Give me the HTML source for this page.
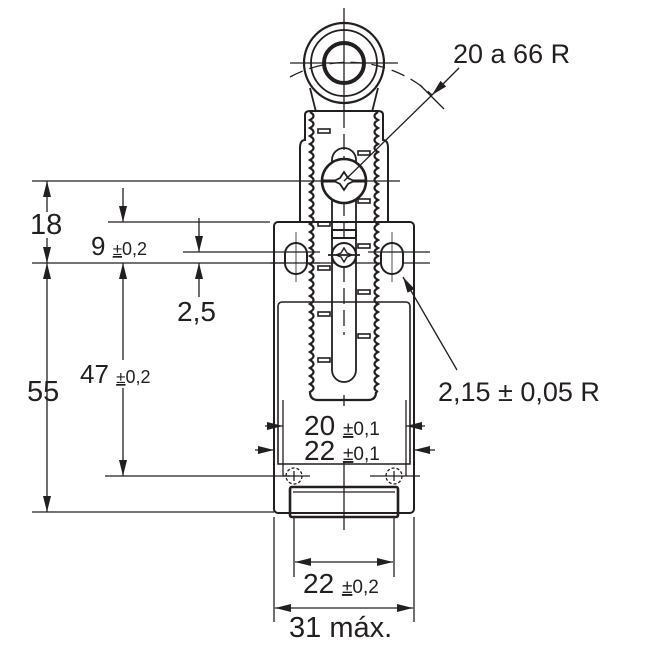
<!DOCTYPE html>
<html><head><meta charset="utf-8"><style>
html,body{margin:0;padding:0;background:#fff;}
svg{display:block;}
text{font-family:"Liberation Sans",sans-serif;fill:#231f20;}
</style></head><body>
<svg width="650" height="650" viewBox="0 0 650 650" xmlns="http://www.w3.org/2000/svg">
<defs>
<marker id="a" viewBox="0 0 16 8" refX="16" refY="4" markerWidth="16" markerHeight="8" markerUnits="userSpaceOnUse" orient="auto-start-reverse"><path d="M0,0 L16,4 L0,8 z" fill="#231f20"/></marker>
</defs>
<g stroke="#231f20" fill="none" stroke-width="1.3">
<line x1="32" y1="181" x2="400" y2="181"/>
<line x1="108" y1="222" x2="270" y2="222"/>
<line x1="183" y1="252" x2="270" y2="252"/>
<line x1="32" y1="263" x2="430" y2="263"/>
<line x1="32" y1="512" x2="274" y2="512"/>
<line x1="105" y1="476" x2="290" y2="476"/>
<line x1="47" y1="212" x2="47" y2="181" marker-end="url(#a)"/>
<line x1="47" y1="238" x2="47" y2="263" marker-end="url(#a)"/>
<line x1="47" y1="263" x2="47" y2="512" marker-start="url(#a)" marker-end="url(#a)"/>
<line x1="123" y1="188" x2="123" y2="222" marker-end="url(#a)"/>
<line x1="123" y1="360" x2="123" y2="263" marker-end="url(#a)"/>
<line x1="123" y1="388" x2="123" y2="476" marker-end="url(#a)"/>
<line x1="199" y1="218" x2="199" y2="252" marker-end="url(#a)"/>
<line x1="199" y1="297" x2="199" y2="263" marker-end="url(#a)"/>
<line x1="294" y1="517" x2="294" y2="577"/>
<line x1="394" y1="517" x2="394" y2="577"/>
<line x1="274" y1="517" x2="274" y2="622"/>
<line x1="414" y1="517" x2="414" y2="622"/>
<line x1="295" y1="562" x2="393" y2="562" marker-start="url(#a)" marker-end="url(#a)"/>
<line x1="275" y1="608" x2="413" y2="608" marker-start="url(#a)" marker-end="url(#a)"/>
<line x1="283" y1="400" x2="283" y2="476"/>
<line x1="406" y1="400" x2="406" y2="476"/>
<line x1="265" y1="426" x2="283" y2="426" marker-end="url(#a)"/>
<line x1="425" y1="426" x2="406" y2="426" marker-end="url(#a)"/>
<line x1="255" y1="450" x2="274" y2="450" marker-end="url(#a)"/>
<line x1="435" y1="450" x2="414" y2="450" marker-end="url(#a)"/>
<rect x="274" y="222" width="140" height="291" rx="4" stroke-width="2"/>
<path d="M278 464 V306 a4 4 0 0 1 4 -4 H406 a4 4 0 0 1 4 4 V464 Z" stroke-width="1.6"/>
<rect x="290" y="487" width="108" height="30" rx="2" stroke-width="2.6"/>
<line x1="293" y1="492" x2="395" y2="492"/>
<path d="M300 222 V148 q0 -8 5 -8 V115 q0 -4 5 -4 H378 q5 0 5 4 V140 q5 0 5 8 V222" stroke-width="2"/>
<path d="M310 112 q7 4 0 8 q7 4 0 8 q7 4 0 8 q7 4 0 8 q7 4 0 8 q7 4 0 8 q7 4 0 8 q7 4 0 8 q7 4 0 8 q7 4 0 8 q7 4 0 8 q7 4 0 8 q7 4 0 8 q7 4 0 8 q7 4 0 8 q7 4 0 8 q7 4 0 8 q7 4 0 8 q7 4 0 8 q7 4 0 8 q7 4 0 8 q7 4 0 8 q7 4 0 8 q7 4 0 8 q7 4 0 8 q7 4 0 8 q7 4 0 8 q7 4 0 8 q7 4 0 8 q7 4 0 8 q7 4 0 8 q7 4 0 8 q7 4 0 8 q7 4 0 8 q7 4 0 8 q0 8 8 8 H368 q8 0 8 -8" stroke-width="2.2"/>
<path d="M378 112 q-7 4 0 8 q-7 4 0 8 q-7 4 0 8 q-7 4 0 8 q-7 4 0 8 q-7 4 0 8 q-7 4 0 8 q-7 4 0 8 q-7 4 0 8 q-7 4 0 8 q-7 4 0 8 q-7 4 0 8 q-7 4 0 8 q-7 4 0 8 q-7 4 0 8 q-7 4 0 8 q-7 4 0 8 q-7 4 0 8 q-7 4 0 8 q-7 4 0 8 q-7 4 0 8 q-7 4 0 8 q-7 4 0 8 q-7 4 0 8 q-7 4 0 8 q-7 4 0 8 q-7 4 0 8 q-7 4 0 8 q-7 4 0 8 q-7 4 0 8 q-7 4 0 8 q-7 4 0 8 q-7 4 0 8 q-7 4 0 8 q-7 4 0 8" stroke-width="2.2"/>
<path d="M316 112 L310 88 M372 112 L378 88" stroke-width="1.8"/>
<path d="M332 370 V160 a12 12 0 0 1 24 0 V370 a12 12 0 0 1 -24 0 Z" stroke-width="1.8"/>
<g stroke-width="1.6">
<rect x="318" y="129" width="12" height="4"/><rect x="358" y="151" width="12" height="4"/>
<rect x="318" y="222" width="12" height="4"/><rect x="358" y="244" width="12" height="4"/>
<rect x="318" y="266" width="12" height="4"/><rect x="358" y="290" width="12" height="4"/>
<rect x="318" y="312" width="12" height="4"/><rect x="358" y="334" width="12" height="4"/>
<rect x="318" y="358" width="12" height="4"/><rect x="358" y="199" width="12" height="4"/>
</g>
<circle cx="344" cy="63" r="40" fill="#fff" stroke-width="2.2"/>
<circle cx="344" cy="63" r="33" stroke-width="1.8"/>
<circle cx="344" cy="63" r="20" stroke-width="4"/>
<line x1="344" y1="8" x2="344" y2="112"/>
<line x1="290" y1="63" x2="398" y2="63"/>
<path d="M290 77 A123 123 0 0 1 432 95" stroke-dasharray="14 7"/>
<line x1="344" y1="112" x2="344" y2="335" stroke-dasharray="16 6"/>
<circle cx="344" cy="181" r="22" fill="#fff" stroke-width="2.6"/>
<path d="M322 181 H366" stroke-width="3"/>
<path d="M344 172 l4 6 l6 3 l-6 3 l-4 6 l-4 -6 l-6 -3 l6 -3 z" fill="#fff" stroke-width="1.8"/>
<line x1="459" y1="68" x2="432" y2="95" marker-end="url(#a)"/>
<line x1="432" y1="95" x2="344" y2="181"/>
<line x1="420" y1="85" x2="444" y2="109"/>
<rect x="332" y="230" width="24" height="8" stroke-width="2"/>
<circle cx="344" cy="255" r="12" fill="#fff" stroke-width="2"/>
<path d="M344 248 l3 5 l5 2 l-5 2 l-3 5 l-3 -5 l-5 -2 l5 -2 z" stroke-width="1.4"/>
<line x1="328" y1="255" x2="360" y2="255" stroke-width="1.8"/>
<rect x="285" y="243" width="22" height="31" rx="11" fill="#fff" stroke-width="2"/>
<rect x="381" y="243" width="22" height="31" rx="11" fill="#fff" stroke-width="2"/>
<line x1="270" y1="252" x2="320" y2="252"/><line x1="270" y1="263" x2="320" y2="263"/>
<line x1="368" y1="252" x2="430" y2="252"/>
<line x1="296" y1="232" x2="296" y2="282" stroke-width="0.8"/>
<line x1="392" y1="232" x2="392" y2="282" stroke-width="0.8"/>
<line x1="457" y1="370" x2="403" y2="277" marker-end="url(#a)"/>
<circle cx="294" cy="476" r="8" stroke-dasharray="3 2"/>
<circle cx="394" cy="476" r="8" stroke-dasharray="3 2"/>
<line x1="282" y1="476" x2="310" y2="476"/><line x1="370" y1="476" x2="420" y2="476"/>
<line x1="294" y1="471" x2="294" y2="481"/><line x1="394" y1="471" x2="394" y2="481"/>
<line x1="344" y1="395" x2="344" y2="530"/>
</g>
<g>
<rect x="296" y="406" width="90" height="56" fill="#fff"/>
<text x="453" y="63" font-size="27">20 a 66 R</text>
<text x="30" y="234" font-size="29">18</text>
<text x="91" y="255" font-size="26">9 <tspan font-size="17" text-decoration="underline">±</tspan><tspan font-size="18">0,2</tspan></text>
<text x="177" y="321" font-size="28">2,5</text>
<text x="80" y="383" font-size="26">47 <tspan font-size="17" text-decoration="underline">±</tspan><tspan font-size="18">0,2</tspan></text>
<text x="27" y="401" font-size="29">55</text>
<text x="438" y="401" font-size="27">2,15 ± 0,05 R</text>
<text x="304" y="435" font-size="28">20 <tspan font-size="19" text-decoration="underline">±</tspan><tspan font-size="19">0,1</tspan></text>
<text x="304" y="460" font-size="28">22 <tspan font-size="19" text-decoration="underline">±</tspan><tspan font-size="19">0,1</tspan></text>
<text x="303" y="593" font-size="28">22 <tspan font-size="19" text-decoration="underline">±</tspan><tspan font-size="19">0,2</tspan></text>
<text x="289" y="637" font-size="29">31 máx.</text>
</g>
</svg>
</body></html>
